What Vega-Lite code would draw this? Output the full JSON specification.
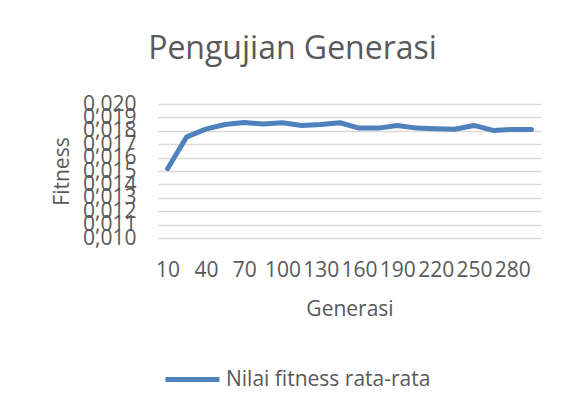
{
  "$schema": "https://vega.github.io/schema/vega-lite/v6.json",
  "width": 383,
  "height": 134,
  "autosize": {"type": "none"},
  "padding": {"left": 158, "top": 104, "right": 27, "bottom": 177},
  "background": "white",
  "title": {
    "text": "Pengujian Generasi",
    "font": "Open Sans",
    "fontSize": 32,
    "fontWeight": "normal",
    "color": "#595959",
    "anchor": "middle",
    "baseline": "alphabetic",
    "offset": 2,
    "dx": -57
  },
  "data": {
    "values": [
      {"generasi": 10, "fitness": 0.01517, "series": "Nilai fitness rata-rata"},
      {"generasi": 25, "fitness": 0.01755, "series": "Nilai fitness rata-rata"},
      {"generasi": 40, "fitness": 0.01812, "series": "Nilai fitness rata-rata"},
      {"generasi": 55, "fitness": 0.01847, "series": "Nilai fitness rata-rata"},
      {"generasi": 70, "fitness": 0.01862, "series": "Nilai fitness rata-rata"},
      {"generasi": 85, "fitness": 0.0185, "series": "Nilai fitness rata-rata"},
      {"generasi": 100, "fitness": 0.0186, "series": "Nilai fitness rata-rata"},
      {"generasi": 115, "fitness": 0.0184, "series": "Nilai fitness rata-rata"},
      {"generasi": 130, "fitness": 0.01847, "series": "Nilai fitness rata-rata"},
      {"generasi": 145, "fitness": 0.0186, "series": "Nilai fitness rata-rata"},
      {"generasi": 160, "fitness": 0.0182, "series": "Nilai fitness rata-rata"},
      {"generasi": 175, "fitness": 0.0182, "series": "Nilai fitness rata-rata"},
      {"generasi": 190, "fitness": 0.0184, "series": "Nilai fitness rata-rata"},
      {"generasi": 205, "fitness": 0.0182, "series": "Nilai fitness rata-rata"},
      {"generasi": 220, "fitness": 0.01815, "series": "Nilai fitness rata-rata"},
      {"generasi": 235, "fitness": 0.01812, "series": "Nilai fitness rata-rata"},
      {"generasi": 250, "fitness": 0.0184, "series": "Nilai fitness rata-rata"},
      {"generasi": 265, "fitness": 0.01803, "series": "Nilai fitness rata-rata"},
      {"generasi": 280, "fitness": 0.0181, "series": "Nilai fitness rata-rata"},
      {"generasi": 295, "fitness": 0.0181, "series": "Nilai fitness rata-rata"}
    ]
  },
  "mark": {"type": "line", "strokeWidth": 5, "strokeCap": "round", "strokeJoin": "round"},
  "encoding": {
    "x": {
      "field": "generasi",
      "type": "ordinal",
      "sort": "ascending",
      "scale": {"type": "point", "padding": 0.5},
      "axis": {
        "title": "Generasi",
        "values": [10, 40, 70, 100, 130, 160, 190, 220, 250, 280],
        "labelAngle": 0,
        "labelOverlap": false,
        "labelPadding": 21,
        "titlePadding": 18,
        "domain": false,
        "ticks": false,
        "grid": false
      }
    },
    "y": {
      "field": "fitness",
      "type": "quantitative",
      "scale": {"domain": [0.01, 0.02], "nice": false, "zero": false},
      "axis": {
        "title": "Fitness",
        "values": [0.010, 0.011, 0.012, 0.013, 0.014, 0.015, 0.016, 0.017, 0.018, 0.019, 0.020],
        "labelExpr": "replace(format(datum.value, '.3f'), '.', ',')",
        "labelOverlap": false,
        "labelBound": false,
        "labelFlush": false,
        "labelPadding": 22,
        "titlePadding": 10,
        "domain": false,
        "ticks": false,
        "grid": true,
        "gridColor": "#D9D9D9",
        "gridWidth": 1.5
      }
    },
    "color": {
      "field": "series",
      "type": "nominal",
      "scale": {"range": ["#4F81BD"]},
      "legend": {
        "title": null,
        "orient": "none",
        "legendX": 5,
        "legendY": 246,
        "symbolType": "stroke",
        "symbolSize": 2916,
        "symbolStrokeWidth": 5,
        "labelOffset": 4,
        "labelLimit": 400
      }
    }
  },
  "config": {
    "view": {"stroke": null},
    "font": "Open Sans",
    "axis": {
      "labelFont": "Open Sans",
      "labelFontSize": 21,
      "labelColor": "#595959",
      "titleFont": "Open Sans",
      "titleFontSize": 21,
      "titleFontWeight": "normal",
      "titleColor": "#595959"
    },
    "legend": {
      "labelFont": "Open Sans",
      "labelFontSize": 21,
      "labelColor": "#595959"
    }
  }
}
